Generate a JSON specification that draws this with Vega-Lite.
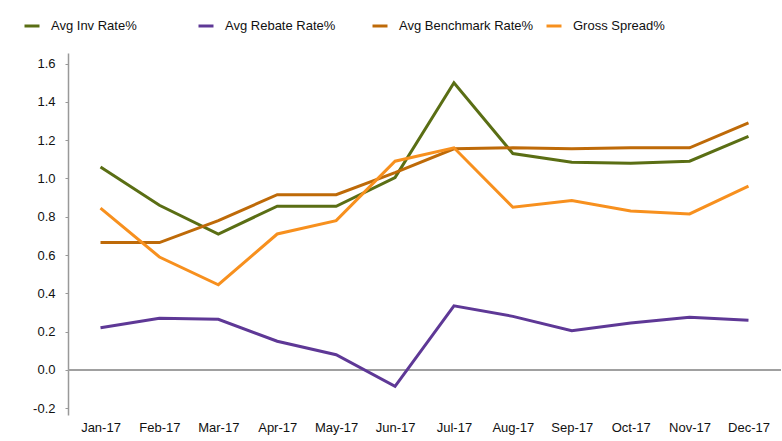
{
  "$schema": "https://vega.github.io/schema/vega-lite/v6.json",
  "width": 713,
  "height": 362,
  "autosize": {"type": "none"},
  "padding": {"left": 68, "top": 53, "right": 1, "bottom": 26},
  "background": "white",
  "config": {
    "view": {"stroke": null},
    "font": "Liberation Sans",
    "axis": {"labelFont": "Liberation Sans", "labelFontSize": 13, "labelColor": "#111", "grid": false, "title": null},
    "legend": {"labelFont": "Liberation Sans", "labelFontSize": 13, "labelColor": "#111"}
  },
  "data": {
    "values": [
      {"month": "Jan-17", "series": "Avg Inv Rate%", "value": 1.06},
      {"month": "Feb-17", "series": "Avg Inv Rate%", "value": 0.86},
      {"month": "Mar-17", "series": "Avg Inv Rate%", "value": 0.71},
      {"month": "Apr-17", "series": "Avg Inv Rate%", "value": 0.855},
      {"month": "May-17", "series": "Avg Inv Rate%", "value": 0.855},
      {"month": "Jun-17", "series": "Avg Inv Rate%", "value": 1.005},
      {"month": "Jul-17", "series": "Avg Inv Rate%", "value": 1.5},
      {"month": "Aug-17", "series": "Avg Inv Rate%", "value": 1.13},
      {"month": "Sep-17", "series": "Avg Inv Rate%", "value": 1.085},
      {"month": "Oct-17", "series": "Avg Inv Rate%", "value": 1.08},
      {"month": "Nov-17", "series": "Avg Inv Rate%", "value": 1.09},
      {"month": "Dec-17", "series": "Avg Inv Rate%", "value": 1.22},
      {"month": "Jan-17", "series": "Avg Rebate Rate%", "value": 0.22},
      {"month": "Feb-17", "series": "Avg Rebate Rate%", "value": 0.27},
      {"month": "Mar-17", "series": "Avg Rebate Rate%", "value": 0.265},
      {"month": "Apr-17", "series": "Avg Rebate Rate%", "value": 0.15},
      {"month": "May-17", "series": "Avg Rebate Rate%", "value": 0.08},
      {"month": "Jun-17", "series": "Avg Rebate Rate%", "value": -0.085},
      {"month": "Jul-17", "series": "Avg Rebate Rate%", "value": 0.335},
      {"month": "Aug-17", "series": "Avg Rebate Rate%", "value": 0.28},
      {"month": "Sep-17", "series": "Avg Rebate Rate%", "value": 0.205},
      {"month": "Oct-17", "series": "Avg Rebate Rate%", "value": 0.245},
      {"month": "Nov-17", "series": "Avg Rebate Rate%", "value": 0.275},
      {"month": "Dec-17", "series": "Avg Rebate Rate%", "value": 0.26},
      {"month": "Jan-17", "series": "Avg Benchmark Rate%", "value": 0.665},
      {"month": "Feb-17", "series": "Avg Benchmark Rate%", "value": 0.665},
      {"month": "Mar-17", "series": "Avg Benchmark Rate%", "value": 0.78},
      {"month": "Apr-17", "series": "Avg Benchmark Rate%", "value": 0.915},
      {"month": "May-17", "series": "Avg Benchmark Rate%", "value": 0.915},
      {"month": "Jun-17", "series": "Avg Benchmark Rate%", "value": 1.03},
      {"month": "Jul-17", "series": "Avg Benchmark Rate%", "value": 1.155},
      {"month": "Aug-17", "series": "Avg Benchmark Rate%", "value": 1.16},
      {"month": "Sep-17", "series": "Avg Benchmark Rate%", "value": 1.155},
      {"month": "Oct-17", "series": "Avg Benchmark Rate%", "value": 1.16},
      {"month": "Nov-17", "series": "Avg Benchmark Rate%", "value": 1.16},
      {"month": "Dec-17", "series": "Avg Benchmark Rate%", "value": 1.29},
      {"month": "Jan-17", "series": "Gross Spread%", "value": 0.845},
      {"month": "Feb-17", "series": "Gross Spread%", "value": 0.59},
      {"month": "Mar-17", "series": "Gross Spread%", "value": 0.445},
      {"month": "Apr-17", "series": "Gross Spread%", "value": 0.71},
      {"month": "May-17", "series": "Gross Spread%", "value": 0.78},
      {"month": "Jun-17", "series": "Gross Spread%", "value": 1.09},
      {"month": "Jul-17", "series": "Gross Spread%", "value": 1.16},
      {"month": "Aug-17", "series": "Gross Spread%", "value": 0.85},
      {"month": "Sep-17", "series": "Gross Spread%", "value": 0.885},
      {"month": "Oct-17", "series": "Gross Spread%", "value": 0.83},
      {"month": "Nov-17", "series": "Gross Spread%", "value": 0.815},
      {"month": "Dec-17", "series": "Gross Spread%", "value": 0.96}
    ]
  },
  "layer": [
    {
      "mark": {"type": "rule", "color": "#a0a0a0", "strokeWidth": 1.5},
      "encoding": {"y": {"datum": 0, "type": "quantitative", "scale": {"domain": [-0.235, 1.655], "nice": false, "zero": false}}}
    },
    {
      "mark": {"type": "line", "strokeWidth": 3, "strokeJoin": "miter"},
      "encoding": {
        "x": {
          "field": "month", "type": "ordinal",
          "sort": ["Jan-17","Feb-17","Mar-17","Apr-17","May-17","Jun-17","Jul-17","Aug-17","Sep-17","Oct-17","Nov-17","Dec-17"],
          "scale": {"type": "point", "padding": 0.552},
          "axis": {"orient": "bottom", "domain": false, "ticks": false, "labelAngle": 0, "labelPadding": 6}
        },
        "y": {
          "field": "value", "type": "quantitative",
          "scale": {"domain": [-0.235, 1.655], "nice": false, "zero": false},
          "axis": {
            "values": [-0.2, 0, 0.2, 0.4, 0.6, 0.8, 1.0, 1.2, 1.4, 1.6],
            "labelExpr": "replace(format(datum.value, '.1f'), '\u2212', '-')",
            "domainColor": "#999999", "domainWidth": 1.5,
            "tickColor": "#999999", "tickSize": 3, "tickWidth": 1,
            "labelPadding": 10
          }
        },
        "color": {
          "field": "series", "type": "nominal",
          "sort": ["Avg Inv Rate%", "Avg Rebate Rate%", "Avg Benchmark Rate%", "Gross Spread%"],
          "scale": {
            "domain": ["Avg Inv Rate%", "Avg Rebate Rate%", "Avg Benchmark Rate%", "Gross Spread%"],
            "range": ["#5A6E14", "#5E3896", "#BE6A08", "#F7901E"]
          },
          "legend": {
            "title": null,
            "orient": "none",
            "legendX": -45,
            "legendY": -36,
            "direction": "horizontal",
            "columns": 4,
            "gridAlign": "all",
            "columnPadding": 6,
            "padding": 0,
            "symbolType": "stroke",
            "symbolSize": 225,
            "symbolStrokeWidth": 3,
            "labelOffset": 10,
            "labelLimit": 0
          }
        }
      }
    }
  ]
}
